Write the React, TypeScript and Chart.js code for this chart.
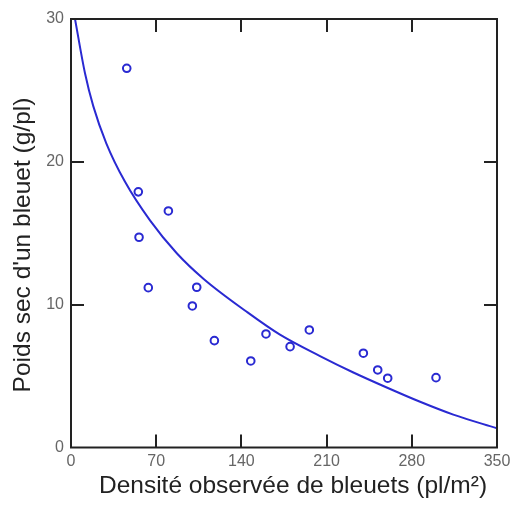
import React, { useEffect, useRef } from "react";
import { Chart, registerables } from "chart.js";

Chart.register(...registerables);

// Observed points
const densite = [45.8, 55.3, 80, 55.9, 63.5, 103.3, 99.7, 117.8, 147.7, 160.2, 180, 195.8, 240.2, 252, 260.2, 299.9];
const poids = [26.55, 17.9, 16.56, 14.72, 11.19, 11.22, 9.91, 7.48, 6.06, 7.95, 7.06, 8.23, 6.6, 5.43, 4.85, 4.89];

// Fitted curve
const courbeX = [3.3, 11.5, 18.3, 29, 44.4, 64.9, 86.9, 109, 144.4, 171.7, 204.6, 232, 259.4, 286.8, 314.1, 350];
const courbeY = [30, 26.2, 23.9, 21.3, 18.6, 15.9, 13.6, 11.8, 9.5, 7.9, 6.4, 5.25, 4.2, 3.2, 2.3, 1.34];

const xTicks = [0, 70, 140, 210, 280, 350];
const yTicks = [0, 10, 20, 30];

const xTitle = "Densité observée de bleuets (pl/m²)";
const yTitle = "Poids sec d'un bleuet (g/pl)";

const BLUE = "#2a2ad2";
const FRAME = "#222222";
const TICK_FONT = "'Liberation Sans Narrow', 'Liberation Sans', Arial, sans-serif";
const TITLE_FONT = "'Liberation Sans', Arial, sans-serif";

const framePlugin = {
  id: "frameTicks",
  afterDraw(chart: any) {
    const { ctx, chartArea } = chart;
    const xs = chart.scales.x;
    const ys = chart.scales.y;
    const { left, right, top, bottom } = chartArea;
    const tl = 13;
    ctx.save();
    ctx.strokeStyle = FRAME;
    ctx.lineWidth = 2;
    ctx.strokeRect(left, top, right - left, bottom - top);
    ctx.beginPath();
    xTicks.forEach((v) => {
      const px = Math.round(xs.getPixelForValue(v));
      if (px <= left + 1 || px >= right - 1) return;
      ctx.moveTo(px, bottom);
      ctx.lineTo(px, bottom - tl);
      ctx.moveTo(px, top);
      ctx.lineTo(px, top + tl);
    });
    yTicks.forEach((v) => {
      const py = Math.round(ys.getPixelForValue(v));
      if (py <= top + 1 || py >= bottom - 1) return;
      ctx.moveTo(left, py);
      ctx.lineTo(left + tl, py);
      ctx.moveTo(right, py);
      ctx.lineTo(right - tl, py);
    });
    ctx.stroke();

    // axis titles
    ctx.fillStyle = "#222222";
    ctx.font = `24.5px ${TITLE_FONT}`;
    ctx.textAlign = "center";
    ctx.textBaseline = "middle";
    ctx.fillText(xTitle, 293, 486);
    ctx.translate(23, 245);
    ctx.rotate(-Math.PI / 2);
    ctx.fillText(yTitle, 0, 0);
    ctx.restore();
  },
};

export default function App() {
  const ref = useRef<HTMLCanvasElement | null>(null);

  useEffect(() => {
    if (!ref.current) return;
    const chart = new Chart(ref.current, {
      type: "scatter",
      data: {
        datasets: [
          {
            type: "line",
            label: "courbe",
            data: courbeX.map((x, i) => ({ x, y: courbeY[i] })),
            borderColor: BLUE,
            borderWidth: 2,
            pointRadius: 0,
            fill: false,
            cubicInterpolationMode: "monotone",
          } as any,
          {
            type: "scatter",
            label: "observé",
            data: densite.map((x, i) => ({ x, y: poids[i] })),
            borderColor: BLUE,
            backgroundColor: "rgba(0,0,0,0)",
            pointRadius: 3.8,
            pointBorderWidth: 2,
            pointStyle: "circle",
          },
        ],
      },
      options: {
        animation: false,
        responsive: false,
        maintainAspectRatio: false,
        layout: { padding: { top: 19, right: 14, left: 0, bottom: 0 } },
        plugins: {
          legend: { display: false },
          tooltip: { enabled: false },
        },
        scales: {
          x: {
            type: "linear",
            min: 0,
            max: 350,
            grid: { display: false, drawTicks: false },
            border: { display: false },
            afterBuildTicks: (s: any) => {
              s.ticks = xTicks.map((v) => ({ value: v }));
            },
            afterFit: (s: any) => {
              s.height = 61.5;
              s.paddingLeft = 0;
              s.paddingRight = 0;
            },
            ticks: {
              color: "#666666",
              font: { family: TICK_FONT, size: 16 },
              padding: 4,
              maxRotation: 0,
              autoSkip: false,
            },
          },
          y: {
            type: "linear",
            min: 0,
            max: 30,
            grid: { display: false, drawTicks: false },
            border: { display: false },
            afterBuildTicks: (s: any) => {
              s.ticks = yTicks.map((v) => ({ value: v }));
            },
            afterFit: (s: any) => {
              s.width = 71;
              s.paddingTop = 0;
              s.paddingBottom = 0;
            },
            ticks: {
              color: "#666666",
              font: { family: TICK_FONT, size: 16 },
              padding: 7,
              autoSkip: false,
            },
          },
        },
      },
      plugins: [framePlugin],
    });
    return () => chart.destroy();
  }, []);

  return (
    <div style={{ position: "absolute", left: 0, top: 0, width: 511, height: 509, background: "#fff" }}>
      <canvas ref={ref} width={511} height={509} style={{ display: "block" }} />
    </div>
  );
}
